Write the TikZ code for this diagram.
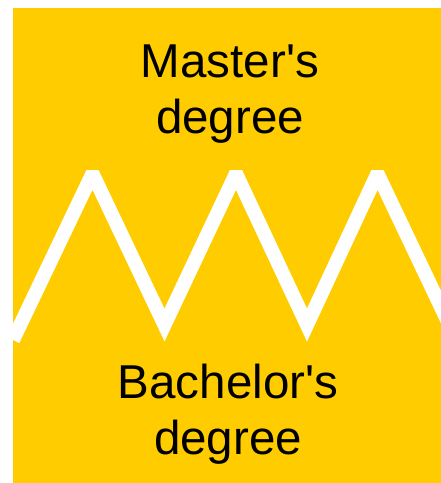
\documentclass[tikz,border=0pt]{standalone}
\usepackage{fontspec}
\setmainfont{Liberation Sans}
\definecolor{degyellow}{HTML}{FFCC00}
\tikzset{
  label text/.style={align=center,text=black,font=\fontsize{33.8}{39.8}\selectfont},
  zigzag/.style={white,line width=3.5mm,line join=miter}
}
\begin{document}
\begin{tikzpicture}[x=0.25mm,y=-0.25mm]
  \useasboundingbox (0,0) rectangle (441,483);
  % 背景
  \fill[degyellow] (13,8) rectangle (441,483);
  % 锯齿线
  \begin{scope}
    \clip (13,170) rectangle (441,483);
    \draw[zigzag] (13,340) -- (92.5,173.5) -- (164.5,325) -- (236,173.5)
      -- (307,325) -- (377.5,173.5) -- (450,326);
  \end{scope}
  % 标注
  \node[label text] (master) at (230,94) {Master\textquotesingle s\\degree};
  \node[label text] (bachelor) at (228,414) {Bachelor\textquotesingle s\\degree};
\end{tikzpicture}
\end{document}
